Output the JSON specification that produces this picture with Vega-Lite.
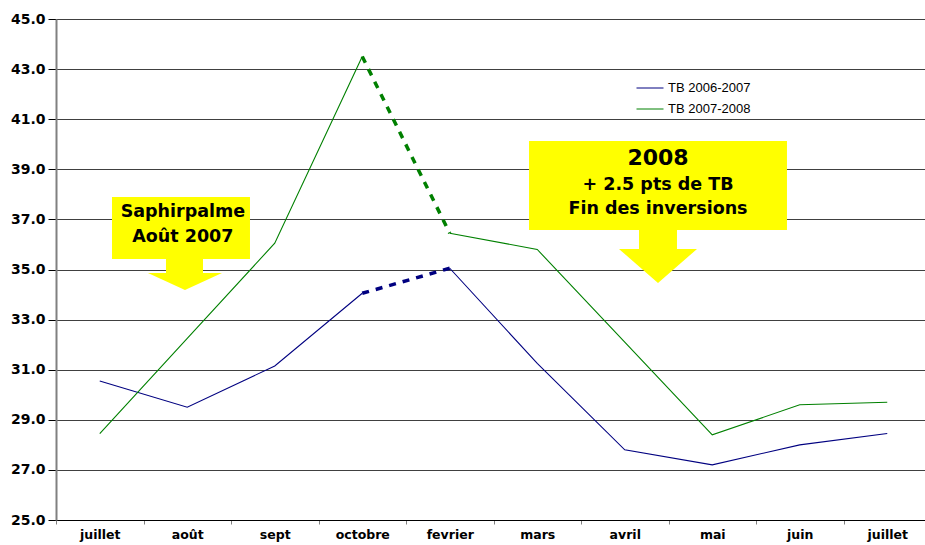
{
  "$schema": "https://vega.github.io/schema/vega-lite/v6.json",
  "width": 875,
  "height": 501,
  "autosize": {"type": "none"},
  "padding": {"left": 56, "top": 19, "right": 0, "bottom": 25},
  "background": "white",
  "config": {
    "view": {"stroke": null},
    "font": "DejaVu Sans",
    "axisY": {
      "title": null, "format": ".1f",
      "labelFont": "DejaVu Sans", "labelFontWeight": "bold", "labelFontSize": 14, "labelColor": "black",
      "tickSize": 8, "tickColor": "black", "domainColor": "#808080", "domainWidth": 2,
      "grid": true, "gridColor": "#404040", "gridOpacity": 1, "gridWidth": 1, "labelPadding": 3
    }
  },
  "datasets": {
    "tb": [
      {"mois": "juillet", "serie": "TB 2006-2007", "tb": 30.55, "seg": "a"},
      {"mois": "août", "serie": "TB 2006-2007", "tb": 29.5, "seg": "a"},
      {"mois": "sept", "serie": "TB 2006-2007", "tb": 31.15, "seg": "a"},
      {"mois": "octobre", "serie": "TB 2006-2007", "tb": 34.05, "seg": "a"},
      {"mois": "fevrier", "serie": "TB 2006-2007", "tb": 35.05, "seg": "b"},
      {"mois": "mars", "serie": "TB 2006-2007", "tb": 31.25, "seg": "b"},
      {"mois": "avril", "serie": "TB 2006-2007", "tb": 27.8, "seg": "b"},
      {"mois": "mai", "serie": "TB 2006-2007", "tb": 27.2, "seg": "b"},
      {"mois": "juin", "serie": "TB 2006-2007", "tb": 28.0, "seg": "b"},
      {"mois": "juillet2", "serie": "TB 2006-2007", "tb": 28.45, "seg": "b"},
      {"mois": "juillet", "serie": "TB 2007-2008", "tb": 28.45, "seg": "a"},
      {"mois": "août", "serie": "TB 2007-2008", "tb": 32.25, "seg": "a"},
      {"mois": "sept", "serie": "TB 2007-2008", "tb": 36.05, "seg": "a"},
      {"mois": "octobre", "serie": "TB 2007-2008", "tb": 43.5, "seg": "a"},
      {"mois": "fevrier", "serie": "TB 2007-2008", "tb": 36.45, "seg": "b"},
      {"mois": "mars", "serie": "TB 2007-2008", "tb": 35.8, "seg": "b"},
      {"mois": "avril", "serie": "TB 2007-2008", "tb": 32.1, "seg": "b"},
      {"mois": "mai", "serie": "TB 2007-2008", "tb": 28.4, "seg": "b"},
      {"mois": "juin", "serie": "TB 2007-2008", "tb": 29.6, "seg": "b"},
      {"mois": "juillet2", "serie": "TB 2007-2008", "tb": 29.7, "seg": "b"}
    ],
    "cadres": [
      {"x": 0.64, "x2": 2.217, "y": 37.89, "y2": 35.42},
      {"x": 1.257, "x2": 1.68, "y": 35.46, "y2": 34.8},
      {"x": 5.406, "x2": 8.354, "y": 40.13, "y2": 36.58},
      {"x": 6.663, "x2": 7.097, "y": 36.62, "y2": 35.76}
    ],
    "fleches": [
      {"f": 1, "x": 1.051, "y": 34.86, "base": 34.86},
      {"f": 1, "x": 1.474, "y": 34.18, "base": 34.86},
      {"f": 1, "x": 1.897, "y": 34.86, "base": 34.86},
      {"f": 2, "x": 6.434, "y": 35.82, "base": 35.82},
      {"f": 2, "x": 6.88, "y": 34.46, "base": 35.82},
      {"f": 2, "x": 7.326, "y": 35.82, "base": 35.82}
    ],
    "textes": [
      {"t": "Saphirpalme", "x": 1.45, "y": 37.31, "niveau": "texte"},
      {"t": "Août 2007", "x": 1.45, "y": 36.31, "niveau": "texte"},
      {"t": "2008", "x": 6.88, "y": 39.45, "niveau": "titre"},
      {"t": "+ 2.5 pts de TB", "x": 6.88, "y": 38.37, "niveau": "texte"},
      {"t": "Fin des inversions", "x": 6.88, "y": 37.41, "niveau": "texte"}
    ]
  },
  "layer": [
    {
      "layer": [
        {
          "data": {"name": "cadres"},
          "mark": {"type": "rect", "color": "#ffff00"},
          "encoding": {
            "x": {"field": "x", "type": "quantitative", "scale": {"domain": [0, 10], "nice": false, "zero": false}, "axis": null},
            "x2": {"field": "x2"},
            "y": {"field": "y", "type": "quantitative", "scale": {"domain": [25, 45], "nice": false, "zero": false}, "axis": {"values": [25, 27, 29, 31, 33, 35, 37, 39, 41, 43, 45]}},
            "y2": {"field": "y2"}
          }
        },
        {
          "data": {"name": "fleches"},
          "mark": {"type": "area", "color": "#ffff00", "opacity": 1},
          "encoding": {
            "x": {"field": "x", "type": "quantitative", "scale": {"domain": [0, 10], "nice": false, "zero": false}, "axis": null},
            "y": {"field": "y", "type": "quantitative", "scale": {"domain": [25, 45], "nice": false, "zero": false}, "axis": {"values": [25, 27, 29, 31, 33, 35, 37, 39, 41, 43, 45]}},
            "y2": {"field": "base"},
            "detail": {"field": "f"}
          }
        },
        {
          "data": {"name": "textes"},
          "transform": [{"filter": "datum.niveau == 'texte'"}],
          "mark": {"type": "text", "font": "DejaVu Sans", "fontWeight": "bold", "fontSize": 17.5, "color": "black", "baseline": "middle", "align": "center"},
          "encoding": {
            "x": {"field": "x", "type": "quantitative", "scale": {"domain": [0, 10], "nice": false, "zero": false}, "axis": null},
            "y": {"field": "y", "type": "quantitative", "scale": {"domain": [25, 45], "nice": false, "zero": false}, "axis": {"values": [25, 27, 29, 31, 33, 35, 37, 39, 41, 43, 45]}},
            "text": {"field": "t"}
          }
        },
        {
          "data": {"name": "textes"},
          "transform": [{"filter": "datum.niveau == 'titre'"}],
          "mark": {"type": "text", "font": "DejaVu Sans", "fontWeight": "bold", "fontSize": 22, "color": "black", "baseline": "middle", "align": "center"},
          "encoding": {
            "x": {"field": "x", "type": "quantitative", "scale": {"domain": [0, 10], "nice": false, "zero": false}, "axis": null},
            "y": {"field": "y", "type": "quantitative", "scale": {"domain": [25, 45], "nice": false, "zero": false}, "axis": {"values": [25, 27, 29, 31, 33, 35, 37, 39, 41, 43, 45]}},
            "text": {"field": "t"}
          }
        }
      ]
    },
    {
      "data": {"name": "tb"},
      "layer": [
        {
          "mark": {"type": "line", "strokeWidth": 1.1},
          "encoding": {
            "x": {
              "field": "mois", "type": "ordinal",
              "sort": ["juillet", "août", "sept", "octobre", "fevrier", "mars", "avril", "mai", "juin", "juillet2"],
              "scale": {"type": "band", "paddingInner": 0, "paddingOuter": 0},
              "axis": {
                "title": null, "labelAngle": 0,
                "labelExpr": "datum.label == 'juillet2' ? 'juillet' : datum.label",
                "labelFont": "DejaVu Sans", "labelFontWeight": "bold", "labelFontSize": 12.5, "labelColor": "black",
                "tickBand": "extent", "tickSize": 4, "tickColor": "#808080", "domainColor": "black", "labelPadding": 4, "grid": false
              }
            },
            "y": {
              "field": "tb", "type": "quantitative",
              "scale": {"domain": [25, 45], "nice": false, "zero": false},
              "axis": {"values": [25, 27, 29, 31, 33, 35, 37, 39, 41, 43, 45]}
            },
            "color": {
              "field": "serie", "type": "nominal",
              "scale": {"domain": ["TB 2006-2007", "TB 2007-2008"], "range": ["#000080", "#008000"]},
              "legend": {
                "title": null, "orient": "none", "legendX": 580, "legendY": 55,
                "symbolType": "stroke", "symbolSize": 729, "symbolStrokeWidth": 1, "symbolDash": [],
                "labelFont": "Liberation Sans", "labelFontSize": 13, "labelColor": "black",
                "labelOffset": 4, "rowPadding": -4, "padding": 0
              }
            },
            "detail": {"field": "seg"}
          }
        },
        {
          "transform": [{"filter": {"field": "mois", "oneOf": ["octobre", "fevrier"]}}],
          "mark": {"type": "line", "strokeWidth": 3.5, "strokeDash": [7, 7]},
          "encoding": {
            "x": {"field": "mois", "type": "ordinal",
              "sort": ["juillet", "août", "sept", "octobre", "fevrier", "mars", "avril", "mai", "juin", "juillet2"]},
            "y": {"field": "tb", "type": "quantitative", "axis": {"values": [25, 27, 29, 31, 33, 35, 37, 39, 41, 43, 45]}},
            "color": {"field": "serie", "type": "nominal"}
          }
        }
      ]
    }
  ],
  "resolve": {"scale": {"x": "independent"}}
}
